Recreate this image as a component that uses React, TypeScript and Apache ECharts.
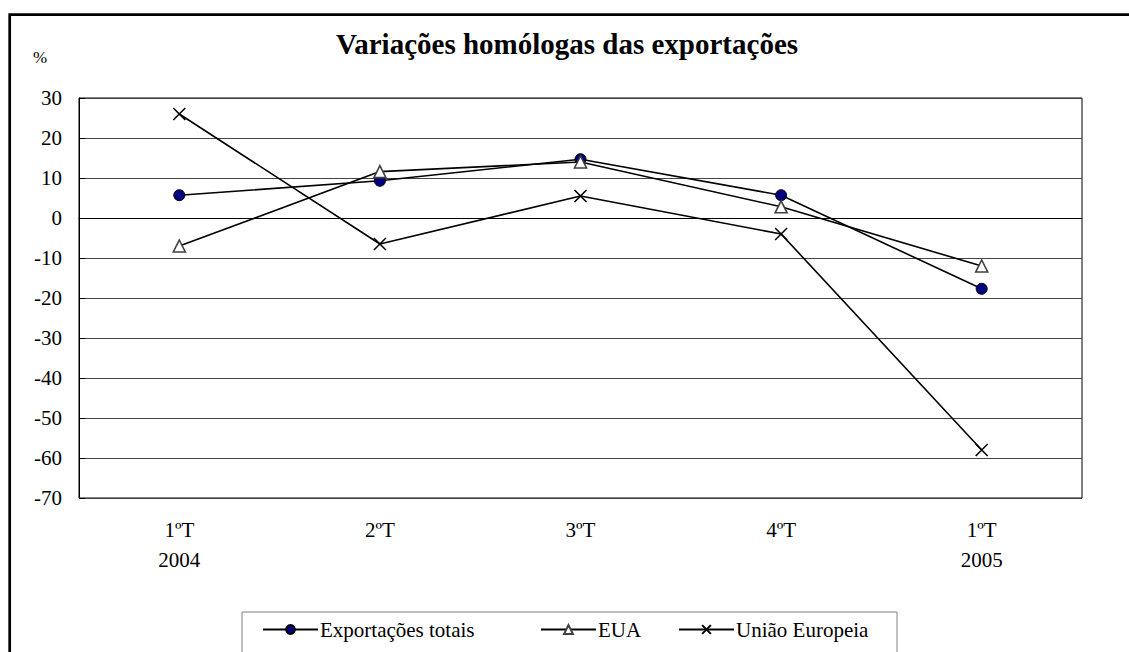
import React, { useEffect, useRef } from "react";
import * as echarts from "echarts";

const categories = ["1ºT\n2004", "2ºT", "3ºT", "4ºT", "1ºT\n2005"];
const exportacoesTotais = [5.7, 9.3, 14.7, 5.7, -17.7];
const eua = [-7.0, 11.6, 14.0, 2.8, -12.0];
const uniaoEuropeia = [26.0, -6.5, 5.5, -4.0, -58.0];
const seriesNames = ["Exportações totais", "EUA", "União Europeia"];
const yMin = -70;
const yMax = 30;
const yStep = 10;

const FONT = "'Liberation Serif', 'Times New Roman', serif";
const CROSS = "path://M0,0L10,10M10,0L0,10";

export default function App() {
  const ref = useRef<HTMLDivElement>(null);

  useEffect(() => {
    if (!ref.current) return;
    const chart = echarts.init(ref.current, null, { renderer: "svg" });
    const legendCommon = {
      top: 619,
      padding: 0,
      itemWidth: 55,
      itemHeight: 11,
      itemGap: 0,
      selectedMode: false,
      textStyle: { fontFamily: FONT, fontSize: 21, color: "#000", lineHeight: 20, padding: [0, 0, 0, -3] },
    };
    chart.setOption({
      animation: false,
      backgroundColor: "#fff",
      textStyle: { fontFamily: FONT },
      title: {
        text: "Variações homólogas das exportações",
        left: 567,
        textAlign: "center",
        top: 29,
        padding: 0,
        textStyle: { fontFamily: FONT, fontSize: 29, fontWeight: "bold", color: "#000", lineHeight: 29 },
      },
      graphic: [
        {
          type: "rect",
          silent: true,
          z: -1,
          shape: { x: 9.7, y: 14.7, width: 1300, height: 800 },
          style: { fill: "none", stroke: "#000", lineWidth: 2.7 },
        },
        {
          type: "rect",
          silent: true,
          z: -1,
          shape: { x: 242, y: 612, width: 655, height: 80 },
          style: { fill: "#fff", stroke: "#808080", lineWidth: 1 },
        },
      ],
      legend: [
        { ...legendCommon, left: 262, data: [seriesNames[0]] },
        { ...legendCommon, left: 540, data: [seriesNames[1]] },
        { ...legendCommon, left: 678, data: [seriesNames[2]] },
      ],
      grid: {
        left: 79,
        top: 98,
        right: 47,
        bottom: 154,
        show: true,
        borderColor: "#000",
        borderWidth: 1,
        backgroundColor: "#fff",
      },
      xAxis: {
        type: "category",
        data: categories,
        boundaryGap: true,
        axisLine: { lineStyle: { color: "#000", width: 1 } },
        axisTick: { show: false },
        axisLabel: {
          margin: 17,
          fontFamily: FONT,
          fontSize: 21,
          lineHeight: 30,
          color: "#000",
        },
        splitLine: { show: false },
      },
      yAxis: {
        type: "value",
        min: yMin,
        max: yMax,
        interval: yStep,
        name: "%",
        nameLocation: "end",
        nameGap: 32,
        nameTextStyle: { fontFamily: FONT, fontSize: 17, color: "#000", align: "center", padding: [0, 78, 0, 0] },
        axisLine: { show: true, lineStyle: { color: "#000", width: 1 } },
        axisTick: { show: true, inside: true, length: 6, lineStyle: { color: "#000" } },
        axisLabel: { margin: 17, fontFamily: FONT, fontSize: 21, color: "#000" },
        splitLine: { show: true, lineStyle: { color: "#444", width: 1 } },
      },
      series: [
        {
          name: seriesNames[0],
          type: "line",
          data: exportacoesTotais,
          symbol: "circle",
          symbolSize: 11,
          lineStyle: { color: "#000", width: 1.6 },
          itemStyle: { color: "#000080", borderColor: "#000", borderWidth: 1 },
          z: 3,
        },
        {
          name: seriesNames[1],
          type: "line",
          data: eua,
          symbol: "triangle",
          symbolSize: 12,
          lineStyle: { color: "#000", width: 1.6 },
          itemStyle: { color: "#fff", borderColor: "#404040", borderWidth: 1.6 },
          z: 4,
        },
        {
          name: seriesNames[2],
          type: "line",
          data: uniaoEuropeia,
          symbol: CROSS,
          symbolSize: 12,
          lineStyle: { color: "#000", width: 1.6 },
          itemStyle: { color: "rgba(0,0,0,0)", borderColor: "#000", borderWidth: 1.6 },
          z: 5,
        },
      ],
    });
    return () => chart.dispose();
  }, []);

  return (
    <div
      ref={ref}
      style={{ position: "fixed", left: 0, top: 0, width: 1129, height: 652, background: "#fff" }}
    />
  );
}
